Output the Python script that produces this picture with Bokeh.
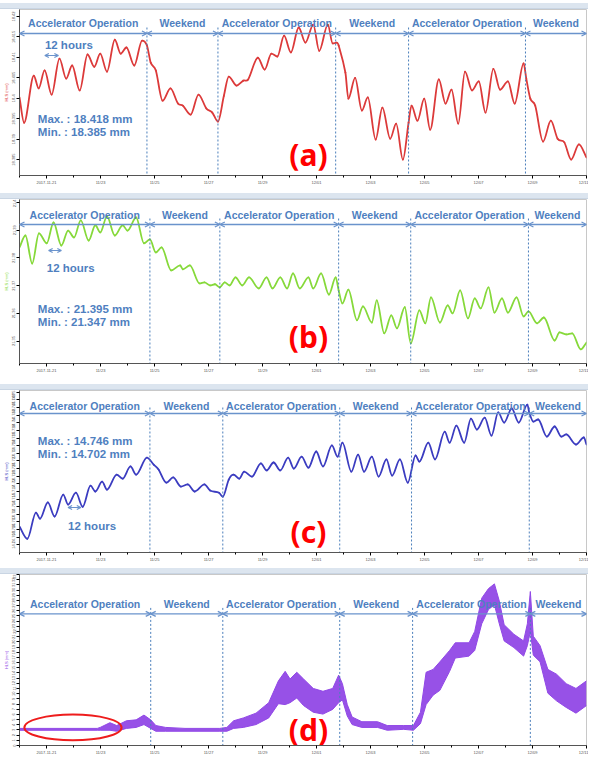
from bokeh.plotting import figure
from bokeh.models import FixedTicker, Range1d, Arrow, OpenHead, ColumnDataSource, Div
from bokeh.layouts import column
from bokeh.embed import file_html
from bokeh.resources import INLINE
from bokeh.core.properties import value

# ---------------- data ----------------
tick_days = [1, 3, 5, 7, 9, 11, 13, 15, 17, 19, 21]
tick_labels = ["2017-11-21", "11/23", "11/25", "11/27", "11/29", "12/01",
               "12/03", "12/05", "12/07", "12/09", "12/11"]
minor_days = [0, 2, 4, 6, 8, 10, 12, 14, 16, 18, 20]
segment_names = ["Accelerator Operation", "Weekend", "Accelerator Operation",
                 "Weekend", "Accelerator Operation", "Weekend"]

a_bounds = [4.72, 7.35, 11.71, 14.41, 18.74]
b_bounds = [4.83, 7.42, 11.82, 14.49, 18.85]
c_bounds = [4.83, 7.53, 11.86, 14.52, 18.88]
d_bounds = [4.86, 7.53, 11.86, 14.56, 18.92]

a_day = [0.00, 0.17, 0.53, 0.71, 0.93, 1.19, 1.48, 1.73, 1.95, 2.23, 2.52, 2.77, 2.99, 3.24, 3.53,
         3.75, 3.96, 4.25, 4.54, 4.72, 4.86, 5.05, 5.30, 5.59, 5.87, 6.05, 6.34, 6.63, 6.92, 7.14,
         7.35, 7.57, 7.75, 8.04, 8.29, 8.47, 8.83, 9.08, 9.33, 9.55, 9.80, 10.05, 10.34, 10.59, 10.88,
         11.10, 11.42, 11.60, 11.75, 11.82, 12.07, 12.18, 12.43, 12.68, 12.90, 13.19, 13.44, 13.73, 13.95, 14.20,
         14.41, 14.52, 14.74, 14.99, 15.21, 15.53, 15.78, 16.00, 16.25, 16.50, 16.76, 17.01, 17.26, 17.55, 17.80,
         18.09, 18.34, 18.67, 18.77, 18.92, 19.10, 19.39, 19.68, 19.93, 20.18, 20.43, 20.72, 21.00]
a_mm = [18.4002, 18.3940, 18.4055, 18.4024, 18.4068, 18.4009, 18.4097, 18.4048, 18.4080, 18.4019,
        18.4107, 18.4077, 18.4109, 18.4065, 18.4143, 18.4109, 18.4124, 18.4080, 18.4141, 18.4129,
        18.4087, 18.4068, 18.3994, 18.4024, 18.3987, 18.3982, 18.3960, 18.4009, 18.3975, 18.3965,
        18.3943, 18.4006, 18.4053, 18.4031, 18.4043, 18.4046, 18.4099, 18.4070, 18.4109, 18.4102,
        18.4153, 18.4112, 18.4173, 18.4136, 18.4180, 18.4116, 18.4180, 18.4134, 18.4136, 18.4129,
        18.4063, 18.3999, 18.4050, 18.3970, 18.4002, 18.3899, 18.3977, 18.3901, 18.3938, 18.3850,
        18.3940, 18.3982, 18.3945, 18.3999, 18.3923, 18.4046, 18.3987, 18.4021, 18.3938, 18.4065,
        18.4019, 18.4041, 18.3965, 18.4072, 18.4021, 18.4041, 18.3987, 18.4085, 18.4048, 18.3999,
        18.3982, 18.3894, 18.3945, 18.3901, 18.3892, 18.3850, 18.3887, 18.3855]

b_day = [0.00, 0.22, 0.47, 0.72, 1.01, 1.26, 1.55, 1.80, 2.02, 2.27, 2.56, 2.81, 2.99, 3.24, 3.53,
         3.82, 4.00, 4.32, 4.61, 4.83, 5.05, 5.26, 5.62, 5.95, 6.05, 6.31, 6.67, 6.85, 7.06, 7.24,
         7.42, 7.60, 7.78, 8.00, 8.25, 8.50, 8.86, 9.15, 9.37, 9.66, 9.91, 10.13, 10.38, 10.70, 10.88,
         11.17, 11.46, 11.71, 11.82, 11.96, 12.18, 12.50, 12.72, 13.05, 13.23, 13.51, 13.77, 13.98, 14.27, 14.49,
         14.81, 15.03, 15.24, 15.57, 15.86, 16.04, 16.32, 16.61, 16.86, 17.08, 17.37, 17.59, 17.87, 18.09, 18.41,
         18.67, 18.85, 19.17, 19.42, 19.82, 20.00, 20.25, 20.47, 20.79, 21.00]
b_mm = [21.3838, 21.3881, 21.3780, 21.3889, 21.3853, 21.3928, 21.3845, 21.3899, 21.3874, 21.3936,
        21.3863, 21.3918, 21.3892, 21.3950, 21.3881, 21.3918, 21.3899, 21.3946, 21.3853, 21.3867,
        21.3820, 21.3838, 21.3755, 21.3773, 21.3759, 21.3773, 21.3708, 21.3712, 21.3701, 21.3705,
        21.3694, 21.3712, 21.3701, 21.3730, 21.3701, 21.3730, 21.3690, 21.3730, 21.3690, 21.3730,
        21.3690, 21.3744, 21.3690, 21.3730, 21.3690, 21.3744, 21.3668, 21.3730, 21.3683, 21.3636,
        21.3686, 21.3575, 21.3625, 21.3567, 21.3647, 21.3528, 21.3593, 21.3546, 21.3622, 21.3492,
        21.3611, 21.3564, 21.3658, 21.3567, 21.3629, 21.3600, 21.3683, 21.3582, 21.3654, 21.3618,
        21.3694, 21.3603, 21.3654, 21.3603, 21.3658, 21.3589, 21.3607, 21.3564, 21.3585, 21.3502,
        21.3531, 21.3524, 21.3528, 21.3470, 21.3495]

c_day = [0.00, 0.29, 0.61, 0.76, 1.05, 1.30, 1.62, 1.80, 2.09, 2.34, 2.63, 2.81, 3.06, 3.24, 3.60,
         3.82, 4.11, 4.32, 4.72, 4.97, 5.15, 5.44, 5.69, 5.98, 6.23, 6.49, 6.85, 7.06, 7.39, 7.53,
         7.75, 7.93, 8.14, 8.32, 8.61, 8.94, 9.15, 9.41, 9.66, 9.95, 10.16, 10.45, 10.70, 10.99, 11.24,
         11.57, 11.78, 11.96, 12.29, 12.54, 12.76, 13.05, 13.30, 13.59, 13.80, 14.09, 14.38, 14.67, 14.81, 15.14,
         15.39, 15.75, 15.93, 16.18, 16.47, 16.72, 16.94, 17.23, 17.48, 17.73, 17.95, 18.23, 18.49, 18.81, 18.88,
         19.03, 19.21, 19.53, 19.82, 20.07, 20.25, 20.61, 20.90, 21.00]
c_mm = [14.7060, 14.7020, 14.7106, 14.7086, 14.7139, 14.7093, 14.7165, 14.7132, 14.7171, 14.7125,
        14.7194, 14.7175, 14.7207, 14.7181, 14.7230, 14.7217, 14.7257, 14.7230, 14.7286, 14.7263,
        14.7247, 14.7204, 14.7221, 14.7191, 14.7198, 14.7175, 14.7198, 14.7178, 14.7171, 14.7158,
        14.7214, 14.7230, 14.7217, 14.7240, 14.7224, 14.7267, 14.7244, 14.7270, 14.7244, 14.7286,
        14.7250, 14.7289, 14.7253, 14.7306, 14.7257, 14.7326, 14.7289, 14.7335, 14.7240, 14.7296,
        14.7240, 14.7289, 14.7224, 14.7280, 14.7227, 14.7280, 14.7204, 14.7293, 14.7273, 14.7335,
        14.7280, 14.7371, 14.7335, 14.7391, 14.7335, 14.7414, 14.7378, 14.7417, 14.7358, 14.7434,
        14.7401, 14.7447, 14.7401, 14.7460, 14.7434, 14.7404, 14.7411, 14.7355, 14.7388, 14.7355,
        14.7362, 14.7329, 14.7352, 14.7329]

d_day = [0.00, 2.88, 2.99, 3.35, 3.60, 3.96, 4.32, 4.61, 4.86, 5.05, 5.41, 6.13, 7.42, 7.68, 7.93,
         8.29, 8.76, 9.23, 9.59, 9.84, 10.02, 10.27, 10.52, 10.88, 11.24, 11.60, 11.82, 11.96, 12.14, 12.32,
         12.68, 13.26, 13.62, 14.23, 14.59, 14.85, 15.06, 15.32, 15.57, 15.93, 16.14, 16.65, 16.86, 17.12, 17.37,
         17.59, 17.77, 17.95, 18.31, 18.67, 18.81, 18.92, 19.03, 19.28, 19.57, 19.89, 20.25, 20.61, 21.00]
d_hi = [3.30, 3.30, 3.49, 4.40, 3.85, 4.77, 4.95, 5.87, 4.95, 3.85, 3.49, 3.30, 3.30, 3.49, 4.77,
        5.32, 6.24, 8.26, 12.48, 14.31, 12.84, 14.13, 12.84, 11.01, 10.46, 11.01, 13.58, 11.93, 7.89, 5.50,
        4.59, 4.59, 3.85, 3.85, 3.85, 6.42, 14.13, 14.68, 16.15, 18.35, 19.82, 19.82, 22.02, 28.44, 30.28,
        31.19, 27.89, 23.30, 21.47, 20.18, 23.49, 29.72, 21.10, 19.27, 14.68, 13.76, 11.93, 11.01, 12.48]
d_lo = [2.94, 2.94, 2.94, 2.94, 2.75, 3.30, 3.49, 4.04, 3.30, 2.75, 2.75, 2.75, 2.75, 2.75, 3.30,
        3.49, 4.04, 5.32, 8.07, 7.89, 8.26, 9.17, 7.71, 6.42, 6.06, 6.97, 8.26, 8.81, 5.69, 4.04,
        3.49, 3.49, 2.94, 3.12, 2.94, 4.22, 7.89, 9.72, 10.64, 14.31, 16.88, 17.25, 18.35, 23.49, 26.24,
        27.16, 23.49, 20.18, 18.90, 17.25, 19.27, 22.02, 17.43, 16.15, 10.09, 8.62, 7.34, 6.24, 7.71]

a_stats = ["Max. : 18.418 mm", "Min. : 18.385 mm"]
b_stats = ["Max. : 21.395 mm", "Min. : 21.347 mm"]
c_stats = ["Max. : 14.746 mm", "Min. : 14.702 mm"]

# red ellipse in (d): centre day, centre value, width (days), height (value units)
d_ellipse = [1.98, 3.49, 3.6, 4.95]

# ---------------- styling ----------------
FONT = value("Liberation Sans")
TXT = "#4f7fc0"
ARR = "#6a93cc"
W = 588


def ypos(rng, fh, off):
    lo, hi = rng
    return hi - off / fh * (hi - lo)


def smooth_line(p, xs, ys, color, width):
    """Draw the series as a smooth curve (cubic Hermite pieces through the read points)."""
    n = len(xs)
    m = []
    for i in range(n):
        if i == 0:
            m.append((ys[1] - ys[0]) / (xs[1] - xs[0]))
        elif i == n - 1:
            m.append((ys[-1] - ys[-2]) / (xs[-1] - xs[-2]))
        elif (ys[i] - ys[i - 1]) * (ys[i + 1] - ys[i]) <= 0:
            m.append(0.0)
        else:
            m.append((ys[i + 1] - ys[i - 1]) / (xs[i + 1] - xs[i - 1]))
    x0, y0, x1, y1, cx0, cy0, cx1, cy1 = [], [], [], [], [], [], [], []
    for i in range(n - 1):
        h = xs[i + 1] - xs[i]
        x0.append(xs[i]); y0.append(ys[i]); x1.append(xs[i + 1]); y1.append(ys[i + 1])
        cx0.append(xs[i] + h / 3); cy0.append(ys[i] + m[i] * h / 3)
        cx1.append(xs[i + 1] - h / 3); cy1.append(ys[i + 1] - m[i + 1] * h / 3)
    p.bezier(x0=x0, y0=y0, x1=x1, y1=y1, cx0=cx0, cy0=cy0, cx1=cx1, cy1=cy1,
             line_color=color, line_width=width, line_cap="round")


def panel(days, vals, color, yrng, yticks, fh, top, bottom, bounds, hdr_txt, hdr_arr,
          letter, letter_off, stats=None, stats_off=None, hrs=None, ylab="HLS (mm)"):
    p = figure(width=W, height=fh + top + bottom, x_range=Range1d(0, 21),
               y_range=Range1d(*yrng), output_backend="svg", toolbar_location=None,
               min_border_left=9, min_border_right=2, min_border_top=top,
               min_border_bottom=bottom, title=None, margin=0)
    p.background_fill_color = "white"
    p.outline_line_color = "#c8c8c8"
    p.xgrid.visible = False
    p.ygrid.visible = False
    xa = p.xaxis[0]
    xa.ticker = FixedTicker(ticks=tick_days, minor_ticks=minor_days)
    xa.major_label_overrides = {d: lab for d, lab in zip(tick_days, tick_labels)}
    xa.major_label_text_font_size = "4px"
    xa.major_label_text_color = "#555555"
    xa.major_tick_out = 3
    xa.major_tick_in = 0
    xa.minor_tick_out = 2
    xa.minor_tick_in = 0
    xa.major_label_standoff = 1
    xa.axis_line_color = "#555555"
    ya = p.yaxis[0]
    ya.ticker = FixedTicker(ticks=yticks, minor_ticks=[])
    ya.major_label_text_font_size = "4px"
    ya.major_label_text_color = "#555555"
    ya.major_label_orientation = "vertical"
    ya.major_tick_out = 3
    ya.major_tick_in = 0
    ya.major_label_standoff = 1
    ya.axis_label = ylab
    ya.axis_label_text_font_size = "4px"
    ya.axis_label_text_color = color
    ya.axis_label_text_font_style = "normal"
    ya.axis_label_standoff = 1
    ya.axis_line_color = "#555555"

    # data
    if isinstance(vals, tuple):
        lo, hi = vals
        p.varea(x=days, y1=lo, y2=hi, fill_color=color, fill_alpha=0.95)
        p.line(days, hi, line_color=color, line_width=1)
        p.line(days, lo, line_color=color, line_width=1)
    else:
        smooth_line(p, days, vals, color, 1.8)

    # header
    edges = [0] + bounds + [21]
    y_arr = ypos(yrng, fh, hdr_arr)
    y_txt = ypos(yrng, fh, hdr_txt)
    src = ColumnDataSource(dict(x0=edges[:-1], x1=edges[1:], y=[y_arr] * 6))
    p.add_layout(Arrow(x_start="x0", y_start="y", x_end="x1", y_end="y", source=src,
                       line_color=ARR, line_width=1.3,
                       start=OpenHead(size=5, line_color=ARR, line_width=1.3),
                       end=OpenHead(size=5, line_color=ARR, line_width=1.3)))
    mids = [(a + b) / 2 for a, b in zip(edges[:-1], edges[1:])]
    p.text(x=mids, y=[y_txt] * 6, text=segment_names, text_font=FONT, text_font_size="10.5px",
           text_font_style="bold", text_color=TXT, text_align="center", text_baseline="middle")
    p.segment(x0=bounds, x1=bounds, y0=[ypos(yrng, fh, hdr_arr - 6)] * 5, y1=[yrng[0]] * 5,
              line_color="#4a7ebb", line_width=1, line_dash="2 2")

    if stats is not None:
        p.text(x=[0.68, 0.68], y=[ypos(yrng, fh, stats_off), ypos(yrng, fh, stats_off + 13)],
               text=stats, text_font=FONT, text_font_size="11.5px", text_font_style="bold",
               text_color=TXT, text_align="left", text_baseline="middle")
    if hrs is not None:
        ax0, ax1, aoff, tx, toff = hrs
        ya_ = ypos(yrng, fh, aoff)
        hs = ColumnDataSource(dict(x0=[ax0], x1=[ax1], y=[ya_]))
        p.add_layout(Arrow(x_start="x0", y_start="y", x_end="x1", y_end="y", source=hs,
                           line_color=ARR, line_width=1.2,
                           start=OpenHead(size=4, line_color=ARR, line_width=1.2),
                           end=OpenHead(size=4, line_color=ARR, line_width=1.2)))
        p.text(x=[tx], y=[ypos(yrng, fh, toff)], text=["12 hours"], text_font=FONT,
               text_font_size="11.5px", text_font_style="bold", text_color=TXT,
               text_align="left", text_baseline="middle")
    p.text(x=[10.7], y=[ypos(yrng, fh, letter_off)], text=[letter], text_font=value("Noto Sans"),
           text_font_size="30px", text_font_style="bold", text_color="#ff0000",
           text_align="center", text_baseline="middle")
    return p


def band(h=6, bg="#dce5ef"):
    return Div(width=W, height=h, margin=0,
               styles={"background-color": bg,
                       "border-bottom": "1px solid #c9d5e3" if h == 6 else "none"})


a_ticks = [18.385, 18.390, 18.395, 18.400, 18.405, 18.410, 18.415, 18.420]
b_ticks = [21.35, 21.36, 21.37, 21.38, 21.39, 21.40]
c_ticks = [round(14.700 + 0.0025 * i, 4) for i in range(21)]
d_ticks = list(range(0, 34))

pa = panel(a_day, a_mm, "#dc3a3a", (18.3811, 18.4217), a_ticks, 166, 0, 18, a_bounds, 13, 24,
           "(a)", 145, a_stats, 109, (0.94, 1.44, 46, 0.94, 35))
pb = panel(b_day, b_mm, "#86d93a", (21.3419, 21.4011), b_ticks, 164, 0, 21, b_bounds, 15, 25,
           "(b)", 137, b_stats, 109, (1.08, 1.55, 51, 1.01, 68))
pc = panel(c_day, c_mm, "#3b3cc0", (14.6975, 14.7506), c_ticks, 162, 0, 16, c_bounds, 15, 23,
           "(c)", 141, c_stats, 50, (1.80, 2.27, 117, 1.80, 135))
pd = panel(d_day, (d_lo, d_hi), "#9148e6", (0, 33), d_ticks, 174, 0, 9, d_bounds, 30, 40,
           "(d)", 158)
pd.ellipse(x=[d_ellipse[0]], y=[d_ellipse[1]], width=[d_ellipse[2]], height=[d_ellipse[3]],
           fill_alpha=0, line_color="#ee1c1c", line_width=2)

layout = column(band(3, "white"), band(), pa, band(), pb, band(), pc, band(), pd,
                spacing=0, margin=0)
open("out.html", "w").write(file_html(layout, INLINE))
